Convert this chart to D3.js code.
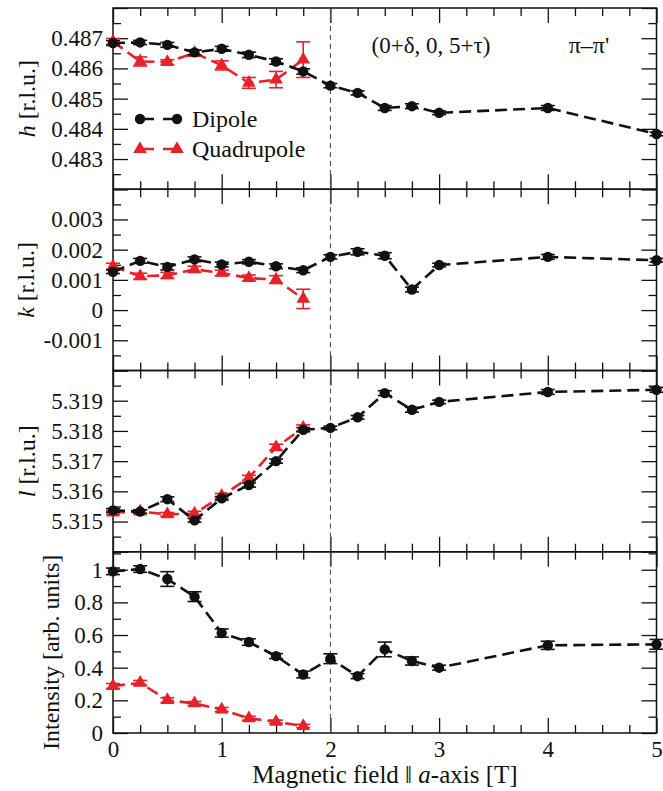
<!DOCTYPE html>
<html><head><meta charset="utf-8">
<script src="https://cdn.jsdelivr.net/npm/d3@7"></script>
<style>
body{margin:0;background:#fff;}
svg text{font-family:"Liberation Serif","Times New Roman",serif;fill:#111;}
</style></head>
<body><svg id="c" width="663" height="791" font-family="Liberation Serif"></svg>
<script>
// ---------------- data ----------------
const fieldsDipole = [0,0.25,0.5,0.75,1,1.25,1.5,1.75,2,2.25,2.5,2.75,3,4,5];
const fieldsQuad = [0,0.25,0.5,0.75,1,1.25,1.5,1.75];

const hDipole = [0.48684,0.48686,0.48678,0.48653,0.48665,0.48645,0.48623,0.48590,0.48543,0.48519,0.48469,0.48475,0.48453,0.48469,0.48383];
const hDipoleErr = [0.00008,0.00007,0.00008,0.00008,0.00008,0.00009,0.00009,0.00009,0.00007,0.00007,0.00008,0.00008,0.00006,0.00008,0.00006];
const hQuad = [0.48689,0.48623,0.48621,0.48651,0.48610,0.48552,0.48563,0.48629];
const hQuadErr = [0.00010,0.00015,0.00008,0.00010,0.00015,0.00018,0.00027,0.00059];

const kDipole = [0.00127,0.00163,0.00143,0.00168,0.00151,0.00160,0.00145,0.00132,0.00176,0.00193,0.00180,0.00068,0.00149,0.00176,0.00165];
const kDipoleErr = [0.00006,0.00008,0.00010,0.00008,0.00008,0.00007,0.00008,0.00008,0.00007,0.00010,0.00010,0.00008,0.00006,0.00008,0.00006];
const kQuad = [0.00145,0.00112,0.00115,0.00135,0.00123,0.00106,0.00101,0.00037];
const kQuadErr = [0.00010,0.00010,0.00010,0.00010,0.00009,0.00010,0.00013,0.00032];

const lDipole = [5.31537,5.31533,5.31574,5.31504,5.31577,5.31621,5.31700,5.31804,5.31810,5.31845,5.31925,5.31870,5.31896,5.31929,5.31936];
const lDipoleErr = [0.00006,0.00006,0.00008,0.00006,0.00006,0.00007,0.00007,0.00007,0.00006,0.00006,0.00008,0.00008,0.00006,0.00008,0.00008];
const lQuad = [5.31530,5.31533,5.31524,5.31526,5.31585,5.31645,5.31746,5.31810];
const lQuadErr = [0.00006,0.00006,0.00006,0.00008,0.00008,0.00008,0.00010,0.00010];

const iDipole = [0.990,1.004,0.943,0.835,0.612,0.557,0.471,0.358,0.455,0.348,0.512,0.441,0.400,0.537,0.543];
const iDipoleErr = [0.020,0.020,0.045,0.030,0.025,0.020,0.015,0.020,0.030,0.015,0.045,0.025,0.015,0.025,0.030];
const iQuad = [0.288,0.307,0.201,0.181,0.144,0.090,0.069,0.043];
const iQuadErr = [0.015,0.015,0.015,0.012,0.012,0.012,0.010,0.010];

const xTicks = [0,1,2,3,4,5];
const hTicks = [0.483,0.484,0.485,0.486,0.487];
const kTicks = [-0.001,0,0.001,0.002,0.003];
const lTicks = [5.315,5.316,5.317,5.318,5.319];
const iTicks = [0,0.2,0.4,0.6,0.8,1];

const seriesNames = ["Dipole","Quadrupole"];
const annotation = "(0+\u03b4, 0, 5+\u03c4)";
const polarization = "\u03c0\u2013\u03c0'";

// ---------------- layout ----------------
const svg = d3.select("#c");
const pLeft = 113, pRight = 656.5, pTop = 8, pBottom = 733;
const ph = (pBottom - pTop) / 4;
const RED = "#e8202a", BLK = "#111";
const FS_TICK = 23, FS_LAB = 24;
const x = d3.scaleLinear().domain([0,5]).range([pLeft,pRight]);

const panels = [
  {dom:[0.482,0.488], ticks:hTicks, minor:0.0005, fmt:d3.format(".3f"), label:["h"," [r.l.u.]"], lx:27,
   d:hDipole, de:hDipoleErr, q:hQuad, qe:hQuadErr},
  {dom:[-0.002,0.004], ticks:kTicks, minor:0.0005, fmt:v=>v===0?"0":(v<0?"-":"")+d3.format(".3f")(Math.abs(v)), label:["k"," [r.l.u.]"], lx:26,
   d:kDipole, de:kDipoleErr, q:kQuad, qe:kQuadErr},
  {dom:[5.314,5.320], ticks:lTicks, minor:0.0005, fmt:d3.format(".3f"), label:["l"," [r.l.u.]"], lx:27,
   d:lDipole, de:lDipoleErr, q:lQuad, qe:lQuadErr},
  {dom:[0,1.11], ticks:iTicks, minor:0.1, fmt:v=>v===0?"0":(v===1?"1":d3.format(".1f")(v)), label:[null,"Intensity [arb. units]"], lx:51,
   d:iDipole, de:iDipoleErr, q:iQuad, qe:iQuadErr}
];

const xMinor = d3.range(0,5.001,0.25);

panels.forEach((p,i)=>{
  const y0 = pTop + i*ph, y1 = y0 + ph;
  const y = d3.scaleLinear().domain(p.dom).range([y1,y0]);
  const g = svg.append("g");

  const mk = (axisFn, scale, vals, len, tx, ty) => {
    g.append("g").attr("transform",`translate(${tx},${ty})`)
      .call(axisFn(scale).tickValues(vals).tickSize(len).tickFormat(""))
      .call(s=>{s.select(".domain").remove(); s.selectAll("line").attr("stroke",BLK).attr("stroke-width",1.3);});
  };
  const xMaj = xTicks, xMin = xMinor.filter(v=>!xTicks.includes(v));
  mk(d3.axisTop, x, xMaj, 15, 0, y1);
  mk(d3.axisTop, x, xMin, 8, 0, y1);
  mk(d3.axisBottom, x, xMaj, 15, 0, y0);
  mk(d3.axisBottom, x, xMin, 8, 0, y0);
  const yAll = d3.range(p.dom[0], p.dom[1]+p.minor/2, p.minor).map(v=>+v.toFixed(6));
  const yMaj = yAll.filter((v,j)=>j%2===0);
  const yMin = yAll.filter((v,j)=>j%2===1);
  mk(d3.axisRight, y, yMaj, 15, pLeft, 0);
  mk(d3.axisRight, y, yMin, 8, pLeft, 0);
  mk(d3.axisLeft, y, yMaj, 15, pRight, 0);
  mk(d3.axisLeft, y, yMin, 8, pRight, 0);

  g.append("g").attr("transform",`translate(${pLeft},0)`)
    .call(d3.axisLeft(y).tickValues(p.ticks).tickSize(0).tickPadding(10).tickFormat(p.fmt))
    .call(s=>{s.select(".domain").remove(); s.attr("font-family",null).attr("font-size",null);
      s.selectAll("text").attr("font-size",FS_TICK).attr("fill","#111");});

  g.append("rect").attr("x",pLeft).attr("y",y0).attr("width",pRight-pLeft).attr("height",ph)
    .attr("fill","none").attr("stroke",BLK).attr("stroke-width",1.5);

  const yl = g.append("text").attr("transform",`translate(${p.lx},${(y0+y1)/2 + (i===3?10:0)}) rotate(-90)`)
    .attr("text-anchor","middle").attr("font-size",FS_LAB).attr("dy","0.35em");
  if (p.label[0]) yl.append("tspan").attr("font-style","italic").text(p.label[0]);
  yl.append("tspan").text(p.label[1]);

  g.append("line").attr("x1",x(2)).attr("x2",x(2)).attr("y1",y0).attr("y2",y1)
    .attr("stroke","#444").attr("stroke-width",1).attr("stroke-dasharray","5,4");

  const drawSeries = (xs, vals, errs, color, shape) => {
    const pts = xs.map((xv,j)=>({x:xv, v:vals[j], e:errs[j]}));
    g.append("path").datum(pts)
      .attr("d", d3.line().x(d=>x(d.x)).y(d=>y(d.v)))
      .attr("fill","none").attr("stroke",color).attr("stroke-width",2.6).attr("stroke-dasharray","12,6");
    const eb = g.append("g").attr("stroke",color).attr("stroke-width",1.6);
    pts.forEach(d=>{
      const cx = x(d.x);
      eb.append("line").attr("x1",cx).attr("x2",cx).attr("y1",y(d.v-d.e)).attr("y2",y(d.v+d.e));
      [d.v-d.e, d.v+d.e].forEach(v=>eb.append("line").attr("x1",cx-7).attr("x2",cx+7).attr("y1",y(v)).attr("y2",y(v)));
    });
    const sym = d3.symbol().type(shape).size(shape===d3.symbolCircle?85:80);
    g.append("g").selectAll("path").data(pts).join("path")
      .attr("transform",d=>`translate(${x(d.x)},${y(d.v)})`).attr("d",sym).attr("fill",color);
  };
  drawSeries(fieldsQuad, p.q, p.qe, RED, d3.symbolTriangle);
  drawSeries(fieldsDipole, p.d, p.de, BLK, d3.symbolCircle);
});

svg.append("g").attr("transform",`translate(0,${pBottom})`)
  .call(d3.axisBottom(x).tickValues(xTicks).tickSize(0).tickPadding(8).tickFormat(d3.format("d")))
  .call(s=>{s.select(".domain").remove(); s.attr("font-family",null).attr("font-size",null);
    s.selectAll("text").attr("font-size",FS_TICK).attr("fill","#111");});

const xl = svg.append("text").attr("x",385).attr("y",783).attr("text-anchor","middle").attr("font-size",25);
xl.append("tspan").text("Magnetic field \u2016 ");
xl.append("tspan").attr("font-style","italic").text("a");
xl.append("tspan").text("-axis [T]");

svg.append("text").attr("x",431).attr("y",53).attr("text-anchor","middle").attr("font-size",FS_TICK).text(annotation);
svg.append("text").attr("x",589).attr("y",53).attr("text-anchor","middle").attr("font-size",FS_LAB).text(polarization);

const leg = svg.append("g");
[[seriesNames[0],BLK,d3.symbolCircle,119],[seriesNames[1],RED,d3.symbolTriangle,149]].forEach(([name,c,shape,ly])=>{
  leg.append("line").attr("x1",140).attr("x2",177).attr("y1",ly).attr("y2",ly)
    .attr("stroke",c).attr("stroke-width",2.6).attr("stroke-dasharray","14,9");
  const sym = d3.symbol().type(shape).size(shape===d3.symbolCircle?85:80);
  [140,177].forEach(px=>leg.append("path").attr("transform",`translate(${px},${ly})`).attr("d",sym).attr("fill",c));
  leg.append("text").attr("x",192).attr("y",ly).attr("dy","0.35em").attr("font-size",FS_LAB).text(name);
});
</script></body></html>
